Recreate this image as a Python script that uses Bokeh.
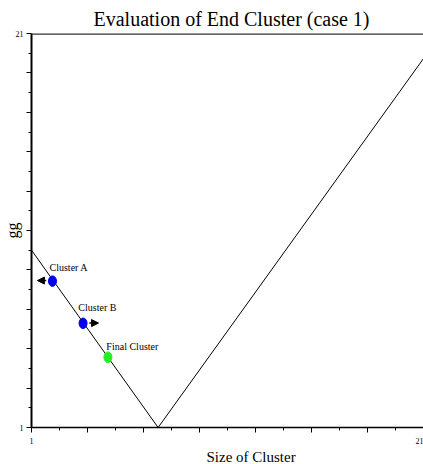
import numpy as np
from bokeh.plotting import figure
from bokeh.models import (Range1d, FixedTicker, Span, Title, Arrow, NormalHead,
                          ColumnDataSource)
from bokeh.core.properties import value
from bokeh.embed import file_html
from bokeh.resources import INLINE

# ---- data ----
line_x = [1.0, 7.46, 21.0]
line_y = [10.0, 1.0, 19.73]

cluster_names = ["Cluster A", "Cluster B", "Final Cluster"]
cluster_x = [2.07, 3.63, 4.90]
cluster_y = [8.43, 6.29, 4.57]
cluster_colors = ["#0000ee", "#0000ee", "#22ee22"]

label_x = [1.92, 3.39, 4.82]
label_y = [9.12, 7.09, 5.11]

arrow_x_start = [1.75, 3.95]
arrow_x_end = [1.30, 4.42]
arrow_y = [8.46, 6.30]

x_major = list(np.linspace(1, 21, 8))
x_minor = [(a + b) / 2 for a, b in zip(x_major[:-1], x_major[1:])]
y_major = list(range(1, 22, 2))
y_minor = list(range(2, 21, 2))

FONT = "Liberation Serif"

p = figure(width=423, height=464, output_backend="svg", toolbar_location=None,
           x_range=Range1d(1, 21), y_range=Range1d(1, 21),
           min_border_left=30, min_border_right=0, min_border_top=33,
           min_border_bottom=37)
p.title.text = "Evaluation of End Cluster (case 1)"
p.title.text_font = FONT
p.title.text_font_size = "20px"
p.title.text_font_style = "normal"
p.title.text_color = "black"
p.title.align = "left"
p.title.offset = 62
p.title.standoff = 8
p.outline_line_color = None
p.grid.visible = False
p.background_fill_color = "white"

# axes
for ax, major, minor in ((p.xaxis[0], x_major, x_minor), (p.yaxis[0], y_major, y_minor)):
    ax.ticker = FixedTicker(ticks=major, minor_ticks=minor)
    ax.major_label_overrides = {float(t): "" for t in major}
    ax.major_label_overrides.update({1.0: "1", 21.0: "21"})
    ax.major_label_text_font = FONT
    ax.major_label_text_font_size = "8px"
    ax.major_label_text_color = "black"
    ax.major_tick_in = 0
    ax.minor_tick_in = 0
    ax.major_tick_out = 5
    ax.minor_tick_out = 3
    ax.axis_line_color = "black"
    ax.major_tick_line_color = "black"
    ax.minor_tick_line_color = "black"
p.yaxis[0].axis_line_width = 2
p.xaxis[0].axis_line_width = 1.5
p.xaxis[0].major_label_standoff = 5
p.yaxis[0].major_label_standoff = 3

# y axis title overlapping tick label column
p.yaxis[0].axis_label = "gg"
p.yaxis[0].axis_label_text_font = FONT
p.yaxis[0].axis_label_text_font_size = "16px"
p.yaxis[0].axis_label_text_font_style = "normal"
p.yaxis[0].axis_label_text_color = "black"
p.yaxis[0].axis_label_standoff = -8

# x axis title, shifted right as in the original
p.add_layout(Title(text="Size of Cluster", align="left", offset=175,
                   text_font=FONT, text_font_size="15px", text_font_style="normal",
                   text_color="black", standoff=0), "below")

# top border
p.add_layout(Span(location=21, dimension="width", line_color="#333333", line_width=2.5))

# V line
p.line(line_x, line_y, line_color="black", line_width=1)

# clusters
src = ColumnDataSource(dict(x=cluster_x, y=cluster_y, c=cluster_colors))
p.ellipse(x="x", y="y", width=8, height=10.5, width_units="screen",
          height_units="screen", fill_color="c", line_color="c", source=src)

# arrows
for xs, xe, ya in zip(arrow_x_start, arrow_x_end, arrow_y):
    p.add_layout(Arrow(x_start=xs, y_start=ya, x_end=xe, y_end=ya,
                       line_color="black", line_width=1.5,
                       end=NormalHead(size=7, fill_color="black", line_color="black")))

# labels
p.text(x=label_x, y=label_y, text=cluster_names, text_font=value(FONT),
       text_font_size="10px", text_align="left", text_baseline="alphabetic",
       text_color="black")

open("out.html", "w").write(file_html(p, INLINE))
